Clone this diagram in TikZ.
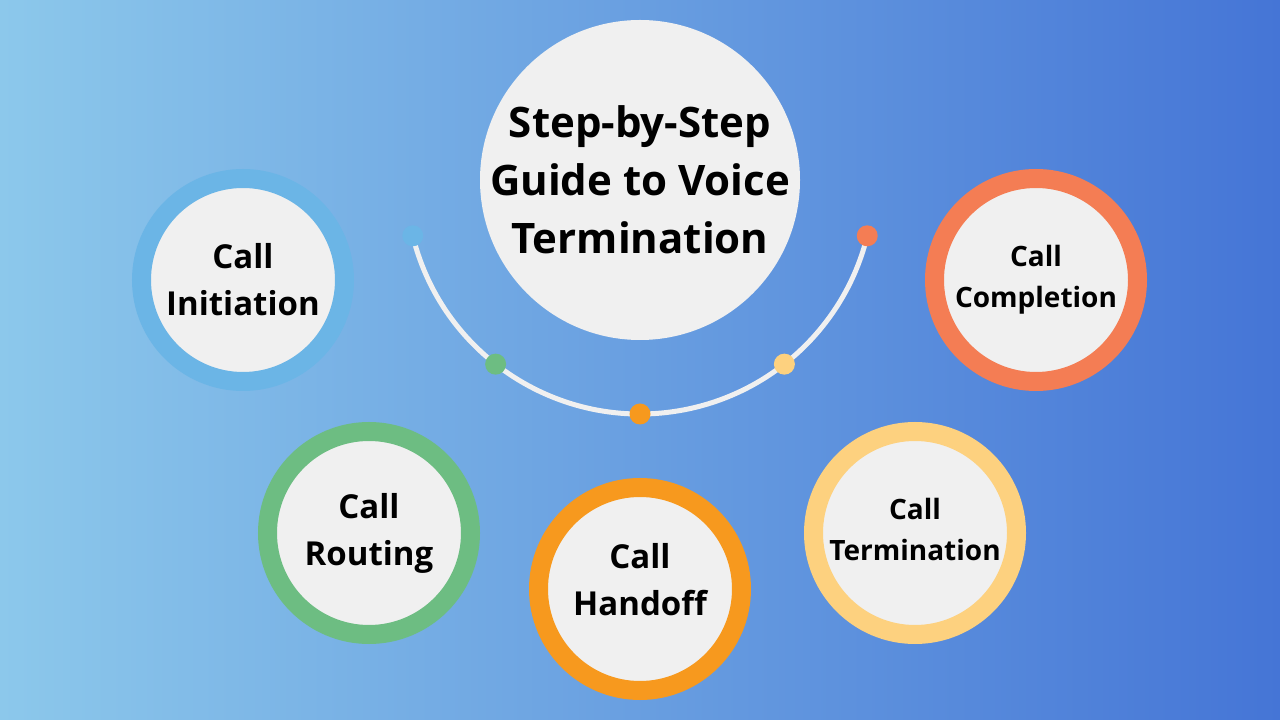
\documentclass[tikz,border=0pt]{standalone}
\usepackage{fontspec}
\setmainfont{Open Sans}
\usetikzlibrary{calc}

\definecolor{bgleft}{HTML}{8CC8EB}
\definecolor{bgmid}{HTML}{6CA4E1}
\definecolor{bgright}{HTML}{4575D6}
\definecolor{disc}{HTML}{F0F0F0}
\definecolor{skyring}{HTML}{6BB5E6}
\definecolor{greenring}{HTML}{6DBD82}
\definecolor{orangering}{HTML}{F7991E}
\definecolor{yellowring}{HTML}{FDD17F}
\definecolor{coralring}{HTML}{F47D54}

\tikzset{
  ring/.style={circle, draw=#1, line width=19, fill=disc, minimum size=203, inner sep=0pt, align=center},
  biglabel/.style={font=\bfseries\fontsize{33}{47}\selectfont},
  smalllabel/.style={font=\bfseries\fontsize{28}{41}\selectfont},
}

\begin{document}
\begin{tikzpicture}[x=1pt, y=1pt]
    \shade[left color=bgleft, middle color=bgmid, right color=bgright] (0, 0) rectangle (1280, 720);
    \useasboundingbox (0, 0) rectangle (1280, 720);

    \node[circle, fill=disc, minimum size=320, inner sep=0pt] (title) at (640, 540) {};
    \node[align=center, font=\bfseries\fontsize{42}{58}\selectfont] (titletext) at (title.center)
          {Step-by-Step\\Guide to Voice\\Termination};

    \draw[disc, line width=5, line cap=round] ($(title.center)+(193.8:234)$) arc[start angle=193.8, end angle=346.2, radius=234];
    \foreach \k/\c in {-2/skyring, -1/greenring, 0/orangering, 1/yellowring, 2/coralring}
      \fill[\c] ($(title.center)+({270+38.1*\k}:234)$) circle[radius=10.5];

    \node[ring=skyring, biglabel] (initiation) at (243, 440) {Call\\Initiation};
    \node[ring=greenring, biglabel] (routing) at (369, 187) {Call\\Routing};
    \node[ring=orangering, biglabel, text depth=20] (handoff) at (640, 131) {Call\\Handoff};
    \node[ring=yellowring, smalllabel, text depth=8] (termination) at (915, 187) {Call\\Termination};
    \node[ring=coralring, smalllabel] (completion) at (1036, 440) {Call\\Completion};
\end{tikzpicture}
\end{document}
